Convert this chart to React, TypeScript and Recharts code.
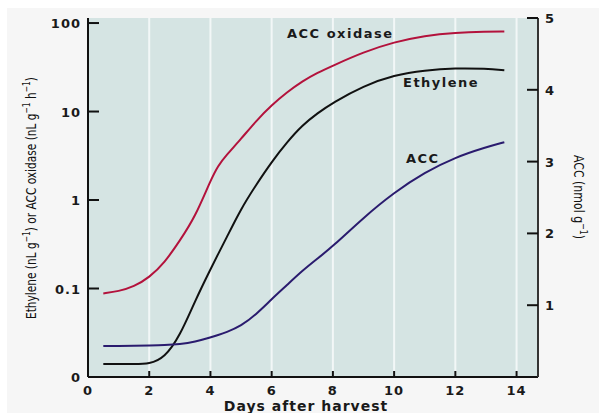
import React from "react";
import { LineChart, Line, XAxis, YAxis, CartesianGrid } from "recharts";

const days = [0.5, 1, 1.5, 2, 2.5, 3, 3.5, 4, 4.25, 4.5, 5, 5.5, 6, 6.5, 7, 7.5, 8, 9, 10, 11, 12, 13, 13.6];
const accOxidase = [0.088, 0.093, 0.105, 0.133, 0.195, 0.347, 0.645, 1.66, 2.45, 3.15, 4.9, 7.9, 11.8, 16.5, 22, 27.5, 33, 47, 61, 72, 78, 80, 80];
const ethylene = [0.014, 0.014, 0.014, 0.014, 0.0165, 0.029, 0.073, 0.165, 0.245, 0.36, 0.8, 1.5, 2.7, 4.5, 7.0, 9.6, 12.6, 19.5, 25.8, 29.3, 31, 30.5, 29.3];
const acc = [0.433, 0.433, 0.435, 0.44, 0.445, 0.457, 0.49, 0.55, 0.585, 0.62, 0.71, 0.875, 1.085, 1.28, 1.48, 1.65, 1.82, 2.22, 2.57, 2.85, 3.06, 3.2, 3.27];

const xTicks = [0, 2, 4, 6, 8, 10, 12, 14];
const leftTicks = [0.01, 0.1, 1, 10, 100];
const leftTickLabels = ["0", "0.1", "1", "10", "100"];
const rightTicks = [1, 2, 3, 4, 5];

const data = days.map((d, i) => ({
  day: d,
  oxidase: accOxidase[i],
  ethylene: ethylene[i],
  acc: acc[i],
}));

const FONT = "'DejaVu Sans', Verdana, sans-serif";
const NARROW = "'Liberation Sans Narrow', 'DejaVu Sans Condensed', 'Liberation Sans', sans-serif";

const XTick = (props: any) => {
  const { x, y, payload } = props;
  return (
    <g>
      {payload.value !== 0 && <line x1={x} x2={x} y1={y} y2={y - 6} stroke="#111" strokeWidth={2} />}
      <text x={x} y={y + 18} textAnchor="middle" fontFamily={FONT} fontWeight={700} fontSize={13} letterSpacing={1} fill="#1a1a1a">
        {payload.value}
      </text>
    </g>
  );
};

const LeftTick = (props: any) => {
  const { x, y, payload } = props;
  const idx = leftTicks.indexOf(payload.value);
  const label = idx >= 0 ? leftTickLabels[idx] : String(payload.value);
  return (
    <g>
      <line x1={x} x2={x + 11} y1={y} y2={y} stroke="#111" strokeWidth={2} />
      <text x={x - 7} y={y + 5} textAnchor="end" fontFamily={FONT} fontWeight={700} fontSize={13} letterSpacing={1} fill="#1a1a1a">
        {label}
      </text>
    </g>
  );
};

const RightTick = (props: any) => {
  const { x, y, payload } = props;
  return (
    <g>
      <line x1={x} x2={x - 11} y1={y} y2={y} stroke="#111" strokeWidth={2} />
      <text x={x + 7} y={y + 5} textAnchor="start" fontFamily={FONT} fontWeight={700} fontSize={13} fill="#1a1a1a">
        {payload.value}
      </text>
    </g>
  );
};

export default function App() {
  return (
    <div style={{ position: "absolute", left: 0, top: 0, width: 599, height: 413, background: "#ffffff", overflow: "hidden" }}>
      <div style={{ position: "absolute", left: 7, top: 8, width: 592, height: 405, background: "#f6f6f6" }} />
      <div style={{ position: "absolute", left: 0, top: 0 }}>
        <LineChart width={599} height={413} data={data} margin={{ top: 18, right: 0, bottom: 0, left: 0 }}>
          <CartesianGrid
            horizontal={false}
            vertical={true}
            fill="#d5e4e3"
            fillOpacity={1}
            stroke="#f2f7f7"
            strokeWidth={2}
          />
          <XAxis
            dataKey="day"
            type="number"
            domain={[0, 14.7]}
            ticks={xTicks}
            allowDataOverflow
            height={36}
            tickSize={0}
            tickMargin={0}
            tickLine={false}
            axisLine={{ stroke: "#111", strokeWidth: 2 }}
            tick={<XTick />}
            interval={0}
          />
          <YAxis
            yAxisId="left"
            orientation="left"
            type="number"
            scale="log"
            domain={[0.01, 114]}
            ticks={leftTicks}
            allowDataOverflow
            width={88}
            tickSize={0}
            tickMargin={0}
            tickLine={false}
            axisLine={{ stroke: "#111", strokeWidth: 2 }}
            tick={<LeftTick />}
            interval={0}
          />
          <YAxis
            yAxisId="right"
            orientation="right"
            type="number"
            domain={[0, 5]}
            ticks={rightTicks}
            allowDataOverflow
            width={61}
            tickSize={0}
            tickMargin={0}
            tickLine={false}
            axisLine={{ stroke: "#333", strokeWidth: 2 }}
            tick={<RightTick />}
            interval={0}
          />
          <Line yAxisId="left" dataKey="oxidase" type="basis" stroke="#b3123c" strokeWidth={2} dot={false} isAnimationActive={false} />
          <Line yAxisId="left" dataKey="ethylene" type="basis" stroke="#111111" strokeWidth={2} dot={false} isAnimationActive={false} />
          <Line yAxisId="right" dataKey="acc" type="basis" stroke="#2a1b6e" strokeWidth={2} dot={false} isAnimationActive={false} />
        </LineChart>
      </div>
      <svg width={599} height={413} style={{ position: "absolute", left: 0, top: 0, pointerEvents: "none" }}>
        <text x={287} y={38} fontFamily={FONT} fontWeight={700} fontSize={13} letterSpacing={1.5} fill="#1a1a1a">ACC oxidase</text>
        <text x={403} y={87} fontFamily={FONT} fontWeight={700} fontSize={13} letterSpacing={1.5} fill="#1a1a1a">Ethylene</text>
        <text x={406} y={163} fontFamily={FONT} fontWeight={700} fontSize={13} letterSpacing={1.5} fill="#1a1a1a">ACC</text>
        <text x={306} y={411} textAnchor="middle" fontFamily={FONT} fontWeight={700} fontSize={14} letterSpacing={1} fill="#1a1a1a">Days after harvest</text>
        <text transform="translate(36,198) rotate(-90)" textAnchor="middle" textLength={242} lengthAdjust="spacingAndGlyphs" fontFamily={NARROW} fontWeight={400} fontSize={14} fill="#111">
          <tspan>Ethylene (nL g</tspan>
          <tspan fontSize={10} dy={-6}>−1</tspan>
          <tspan dy={6}>) or ACC oxidase (nL g</tspan>
          <tspan fontSize={10} dy={-6}>−1</tspan>
          <tspan dy={6}> h</tspan>
          <tspan fontSize={10} dy={-6}>−1</tspan>
          <tspan dy={6}>)</tspan>
        </text>
        <text transform="translate(574,197) rotate(90)" textAnchor="middle" textLength={84} lengthAdjust="spacingAndGlyphs" fontFamily={NARROW} fontWeight={400} fontSize={14} fill="#111">
          <tspan>ACC (nmol g</tspan>
          <tspan fontSize={10} dy={-6}>−1</tspan>
          <tspan dy={6}>)</tspan>
        </text>
      </svg>
    </div>
  );
}
